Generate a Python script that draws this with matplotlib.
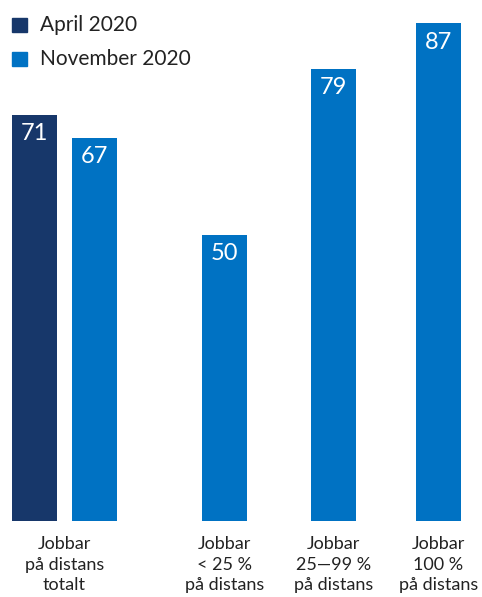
import matplotlib.pyplot as plt
from matplotlib.patches import Rectangle

plt.rcParams['font.family'] = ['Lato', 'DejaVu Sans']

categories = ['Jobbar\npå distans\ntotalt', 'Jobbar\n< 25 %\npå distans',
              'Jobbar\n25\u201499 %\npå distans', 'Jobbar\n100 %\npå distans']
april = [71]
november = [67, 50, 79, 87]
series_names = ['April 2020', 'November 2020']

navy = '#17376a'
blue = '#0072c3'
text_col = '#222222'

W, H = 482, 597
fig = plt.figure(figsize=(W / 100, H / 100), dpi=100)
ax = fig.add_axes([0, 76 / H, 1, 515 / H])
ax.set_xlim(0, W)
ax.set_ylim(0, 90)
ax.axis('off')

bw = 45
april_x = [34.5]
nov_x = [94.5, 224.5, 333.5, 438.5]
label_x = [64.5, 224.5, 333.5, 438.5]

px_per_unit = 515 / 90

def value_labels(xs, vals):
    for x, v in zip(xs, vals):
        ax.text(x, v - 19 / px_per_unit, str(v), ha='center', va='center',
                color='white', fontsize=17)

ax.bar(april_x, april, width=bw, color=navy)
ax.bar(nov_x, november, width=bw, color=blue)
value_labels(april_x, april)
value_labels(nov_x, november)

# category labels under the bars
for x, lab in zip(label_x, categories):
    fig.text(x / W, 1 - 536 / H, lab, ha='center', va='top', color=text_col,
             fontsize=13, linespacing=1.35)

# legend
for i, (name, col) in enumerate(zip(series_names, [navy, blue])):
    y = 18 + i * 34
    fig.patches.append(Rectangle((12 / W, 1 - (y + 14) / H), 15 / W, 14 / H,
                                 transform=fig.transFigure, color=col))
    fig.text(40 / W, 1 - (y + 7) / H, name, ha='left', va='center',
             color=text_col, fontsize=15)

fig.savefig('out.png', dpi=100)
